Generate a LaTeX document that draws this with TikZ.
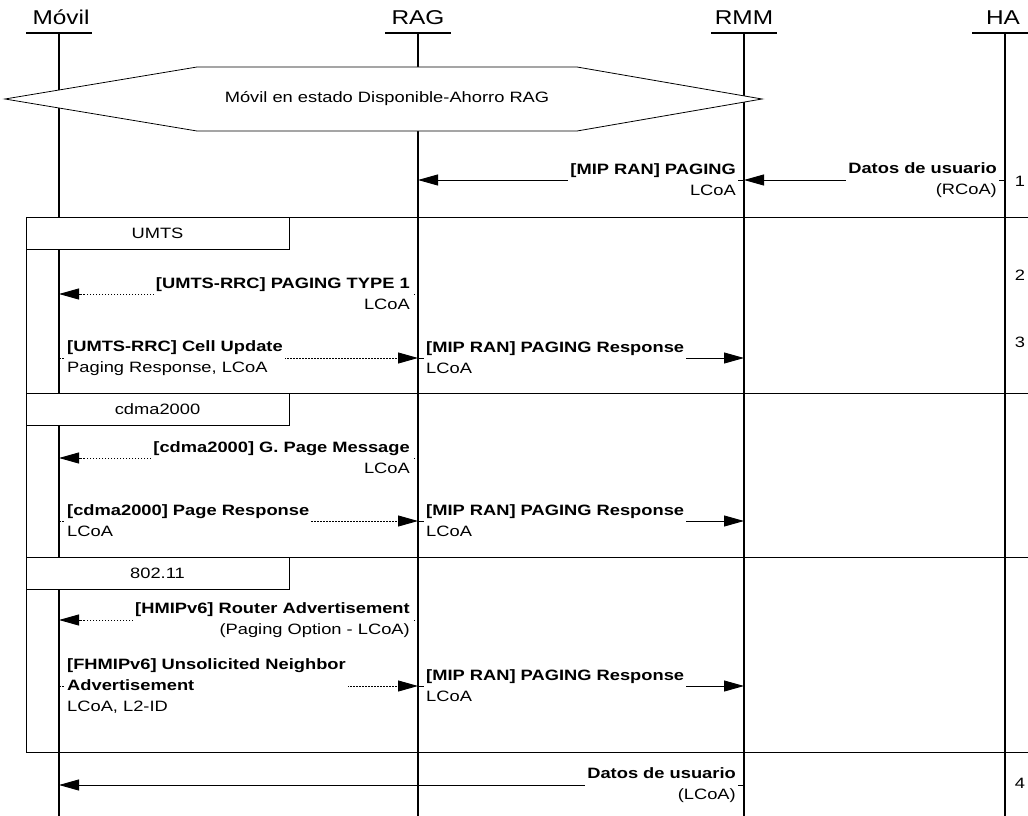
\documentclass[tikz,border=0pt]{standalone}
\usepackage{fontspec}
\setmainfont{Liberation Sans}[FakeStretch=1.22]
\usetikzlibrary{arrows.meta}
\begin{document}
\begin{tikzpicture}[x=1pt,y=-1pt,
  lifeline/.style={line width=1.1pt},
  head/.style={font=\fontsize{20}{24}\selectfont, anchor=base, inner sep=0pt},
  frameline/.style={line width=0.8pt},
  tab/.style={draw, line width=0.8pt, fill=white, minimum width=263pt, minimum height=32pt, inner sep=0pt, font=\fontsize{15}{18}\selectfont},
  msg/.style={line width=0.9pt, -{Triangle[length=20pt,width=11pt]}},
  dmsg/.style={msg, dash pattern=on 1.5pt off 1.5pt},
  lblr/.style={fill=white, inner xsep=2pt, inner ysep=1pt, anchor=east, align=right, font=\fontsize{15}{21}\selectfont},
  lbll/.style={fill=white, inner xsep=2pt, inner ysep=1pt, anchor=west, align=left, font=\fontsize{15}{21}\selectfont},
  num/.style={font=\fontsize{15}{18}\selectfont, inner sep=0pt}
]
\useasboundingbox (0,0) rectangle (1028,816);
\fill[white] (0,0) rectangle (1028,816);

% headers
\node[head] (movil) at (61,25) {Móvil};
\node[head] (rag) at (418,25) {RAG};
\node[head] (rmm) at (744,25) {RMM};
\node[head] (ha) at (1003,25) {HA};
\coordinate (movilT) at (59,33);
\coordinate (ragT) at (418,33);
\coordinate (rmmT) at (744,33);
\coordinate (haT) at (1005,33);
\coordinate (bot) at (0,816);

\foreach \c in {movilT,ragT,rmmT,haT}{
  \draw[lifeline] ([xshift=-33pt]\c) -- ([xshift=33pt]\c);
  \draw[lifeline] (\c) -- (\c |- bot);
}

% frames
\draw[frameline] (1028,217) -- (26,217) -- (26,752) -- (1028,752);
\draw[frameline] (26,393) -- (1028,393);
\draw[frameline] (26,557) -- (1028,557);
\node[tab] (tabU) at (157.5,233) {UMTS};
\node[tab] (tabC) at (157.5,409) {cdma2000};
\node[tab] (tabW) at (157.5,573) {802.11};

% state hexagon
\draw[line width=0.8pt, fill=white] (5,99) -- (197,67) -- (577,67) -- (762,99) -- (577,131) -- (197,131) -- cycle;
\node[font=\fontsize{15}{18}\selectfont] (state) at (387,99) {Móvil en estado Disponible-Ahorro RAG};

% message y coordinates
\coordinate (y1) at (0,180);
\coordinate (y2) at (0,294);
\coordinate (y3) at (0,358);
\coordinate (y4) at (0,458);
\coordinate (y5) at (0,521);
\coordinate (y6) at (0,620);
\coordinate (y7) at (0,686);
\coordinate (y8) at (0,785);

% 1
\draw[msg] (rmmT |- y1) -- (ragT |- y1);
\node[lblr] (l1) at ([xshift=-6pt]rmmT |- y1) {\textbf{[MIP RAN] PAGING}\\LCoA};
\draw[msg] (haT |- y1) -- (rmmT |- y1);
\node[lblr] (l1b) at ([xshift=-6pt]haT |- y1) {\textbf{Datos de usuario}\\(RCoA)};
\node[num] (n1) at (1020,181) {1};

% UMTS
\draw[dmsg] (ragT |- y2) -- (movilT |- y2);
\node[lblr] (l2) at ([xshift=-6pt]ragT |- y2) {\textbf{[UMTS-RRC] PAGING TYPE 1}\\LCoA};
\node[num] (n2) at (1020,275) {2};
\draw[dmsg] (movilT |- y3) -- (ragT |- y3);
\node[lbll] (l3) at ([xshift=6pt]movilT |- y3) {\textbf{[UMTS-RRC] Cell Update}\\Paging Response, LCoA};
\draw[msg] (ragT |- y3) -- (rmmT |- y3);
\node[lbll] (l3b) at ([xshift=6pt]ragT |- y3) {\textbf{[MIP RAN] PAGING Response}\\LCoA};
\node[num] (n3) at (1020,342) {3};

% cdma2000
\draw[dmsg] (ragT |- y4) -- (movilT |- y4);
\node[lblr] (l4) at ([xshift=-6pt]ragT |- y4) {\textbf{[cdma2000] G. Page Message}\\LCoA};
\draw[dmsg] (movilT |- y5) -- (ragT |- y5);
\node[lbll] (l5) at ([xshift=6pt]movilT |- y5) {\textbf{[cdma2000] Page Response}\\LCoA};
\draw[msg] (ragT |- y5) -- (rmmT |- y5);
\node[lbll] (l5b) at ([xshift=6pt]ragT |- y5) {\textbf{[MIP RAN] PAGING Response}\\LCoA};

% 802.11
\draw[dmsg] (ragT |- y6) -- (movilT |- y6);
\node[lblr] (l6) at ([xshift=-6pt]ragT |- y6) {\textbf{[HMIPv6] Router Advertisement}\\(Paging Option - LCoA)};
\draw[dmsg] (movilT |- y7) -- (ragT |- y7);
\node[lbll] (l7) at ([xshift=6pt]movilT |- y7) {\textbf{[FHMIPv6] Unsolicited Neighbor}\\\textbf{Advertisement}\\LCoA, L2-ID};
\draw[msg] (ragT |- y7) -- (rmmT |- y7);
\node[lbll] (l7b) at ([xshift=6pt]ragT |- y7) {\textbf{[MIP RAN] PAGING Response}\\LCoA};

% 4
\draw[msg] (rmmT |- y8) -- (movilT |- y8);
\node[lblr] (l8) at ([xshift=-6pt]rmmT |- y8) {\textbf{Datos de usuario}\\(LCoA)};
\node[num] (n4) at (1020,783) {4};
\end{tikzpicture}
\end{document}
